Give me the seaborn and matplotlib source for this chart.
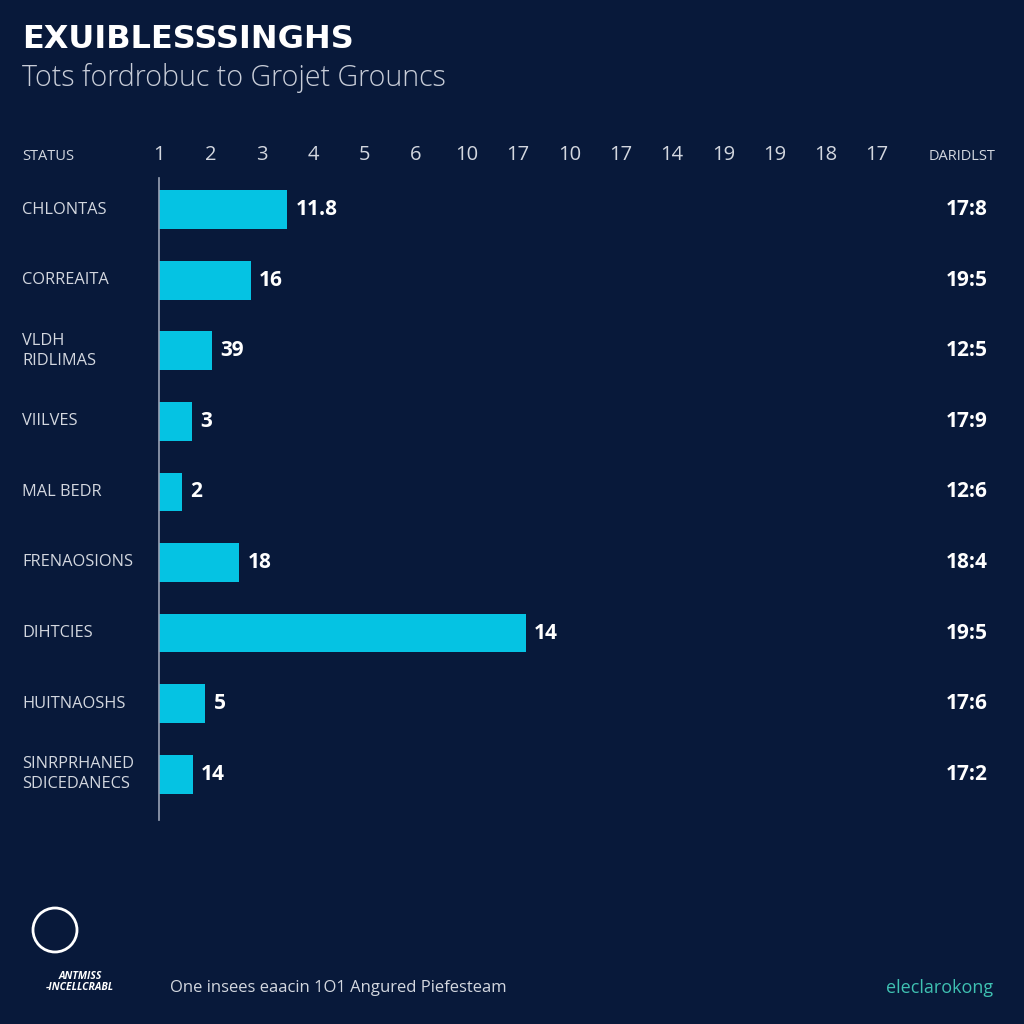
import matplotlib
matplotlib.use("Agg")
import matplotlib.pyplot as plt
import matplotlib.transforms as mtransforms
from matplotlib.patches import Circle
import seaborn as sns
import pandas as pd

# chart values
categories = ["CHLONTAS", "CORREAITA", "VLDH\nRIDLIMAS", "VIILVES", "MAL BEDR",
              "FRENAOSIONS", "DIHTCIES", "HUITNAOSHS", "SINRPRHANED\nSDICEDANECS"]
bar_values = [2.5, 1.79, 1.03, 0.64, 0.45, 1.56, 7.15, 0.9, 0.66]
value_labels = ["11.8", "16", "39", "3", "2", "18", "14", "5", "14"]
right_labels = ["17:8", "19:5", "12:5", "17:9", "12:6", "18:4", "19:5", "17:6", "17:2"]
tick_labels = ["1", "2", "3", "4", "5", "6", "10", "17", "10", "17", "14", "19", "19", "18", "17"]

title = "EXUIBLESSSINGHS"
subtitle = "Tots fordrobuc to Grojet Grouncs"
footer = "One insees eaacin 1O1 Angured Piefesteam"
footer_right = "eleclarokong"

bg = "#08193a"
bar_color = "#05c3e3"
soft = "#d3d7df"

sns.set_theme(style="white")
plt.rcParams["font.family"] = ["Open Sans", "DejaVu Sans"]

df = pd.DataFrame({"category": categories, "value": bar_values})

fig = plt.figure(figsize=(10.24, 10.24), dpi=100, facecolor=bg)
ax = fig.add_axes([159 / 1024, (1024 - 820) / 1024, 15 * 51.3 / 1024, 642 / 1024])
ax.set_facecolor(bg)

sns.barplot(data=df, x="value", y="category", orient="h", color=bar_color,
            saturation=1, width=0.55, linewidth=0, ax=ax)

ax.set_xlim(0, 15)
ax.set_ylim(8.65, -0.45)
ax.set_xlabel("")
ax.set_ylabel("")

# ticks on top with the odd labels
ax.xaxis.tick_top()
ax.set_xticks(range(len(tick_labels)))
ax.set_xticklabels(tick_labels, fontsize=14.5, color=soft)
ax.tick_params(axis="x", length=0, pad=9)
ax.set_yticks([])

for side in ["top", "right", "bottom"]:
    ax.spines[side].set_visible(False)
ax.spines["left"].set_color("#9aa3b5")
ax.spines["left"].set_linewidth(1.2)

ax.bar_label(ax.containers[0], labels=value_labels, padding=6, color="white",
             fontsize=15, fontweight="bold")

# category names on the left and values on the right
trans = mtransforms.blended_transform_factory(fig.transFigure, ax.transData)
for i, (name, right) in enumerate(zip(categories, right_labels)):
    ax.text(22 / 1024, i, name, transform=trans, ha="left", va="center",
            fontsize=11.8, color=soft, linespacing=1.3)
    ax.text(988 / 1024, i, right, transform=trans, ha="right", va="center",
            fontsize=15, color="white", fontweight="bold")

# headers
fig.text(22 / 1024, 1 - 157 / 1024, "STATUS", ha="left", va="center", fontsize=10.5, color=soft)
fig.text(995 / 1024, 1 - 157 / 1024, "DARIDLST", ha="right", va="center", fontsize=10.5, color=soft)

fig.text(22 / 1024, 1 - 40 / 1024, title, ha="left", va="center", fontsize=23,
         fontweight="heavy", color="white", family="DejaVu Sans")
fig.text(22 / 1024, 1 - 78 / 1024, subtitle, ha="left", va="center", fontsize=20.6,
         fontweight="light", color="#c8cdd8")

# footer
fig.text(170 / 1024, 1 - 988 / 1024, footer, ha="left", va="center", fontsize=12, color=soft)
fig.text(993 / 1024, 1 - 988 / 1024, footer_right, ha="right", va="center", fontsize=13,
         color="#3fc1b2")
logo = Circle((55 / 1024, 1 - 930 / 1024), 22 / 1024, transform=fig.transFigure,
              fill=False, edgecolor="white", linewidth=2)
fig.patches.append(logo)
fig.text(80 / 1024, 1 - 982 / 1024, "ANTMISS\n-INCELLCRABL", ha="center", va="center",
         fontsize=7.5, color="white", fontweight="bold", style="italic", linespacing=1.0)

fig.savefig("out.png", dpi=100, facecolor=bg)
